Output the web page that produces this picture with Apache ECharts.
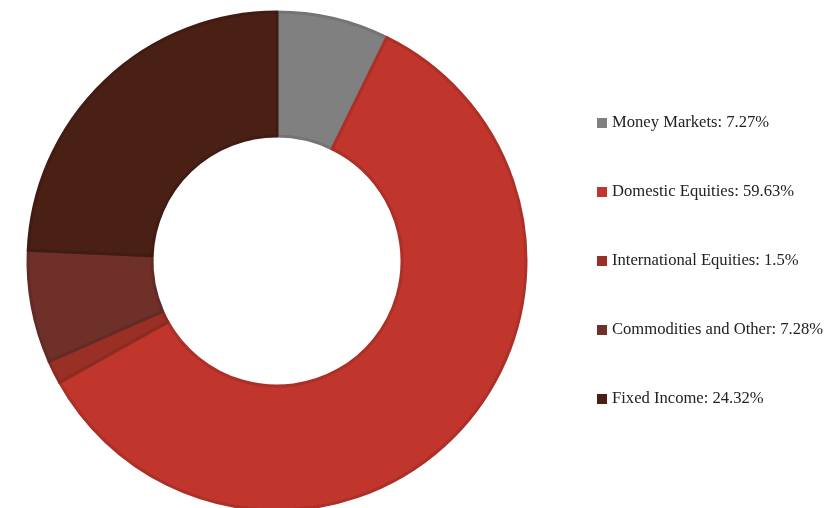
<!DOCTYPE html>
<html><head><meta charset="utf-8">
<script src="https://cdn.jsdelivr.net/npm/echarts@6/dist/echarts.min.js"></script>
<style>html,body{margin:0;padding:0;background:#fff}#c{width:827px;height:508px}</style>
</head><body><div id="c"></div>
<script>
const categories = ['Money Markets','Domestic Equities','International Equities','Commodities and Other','Fixed Income'];
const values = [7.27, 59.63, 1.5, 7.28, 24.32];
const colors = ['#808080','#c0352c','#9a3025','#6f3029','#4a2015'];
const borderColors = ['#747474','#ac3028','#8c2b22','#632b25','#401c13'];

const chart = echarts.init(document.getElementById('c'));
chart.setOption({
  animation: false,
  legend: {
    orient: 'vertical', left: 597, top: 113, padding: 0,
    icon: 'rect', itemWidth: 10, itemHeight: 10, itemGap: 49,
    itemStyle: { borderWidth: 0 },
    textStyle: { fontFamily: 'Liberation Serif, serif', fontSize: 16.6, color: '#222', lineHeight: 20 },
    formatter: name => name + ': ' + values[categories.indexOf(name)] + '%',
    data: categories
  },
  series: [{
    type: 'pie',
    center: [277, 261],
    radius: [125, 249],
    startAngle: 90,
    clockwise: true,
    label: { show: false },
    labelLine: { show: false },
    data: categories.map((c, i) => ({
      name: c, value: values[i],
      itemStyle: { color: colors[i], borderColor: borderColors[i], borderWidth: 3 }
    }))
  }]
});
</script></body></html>
